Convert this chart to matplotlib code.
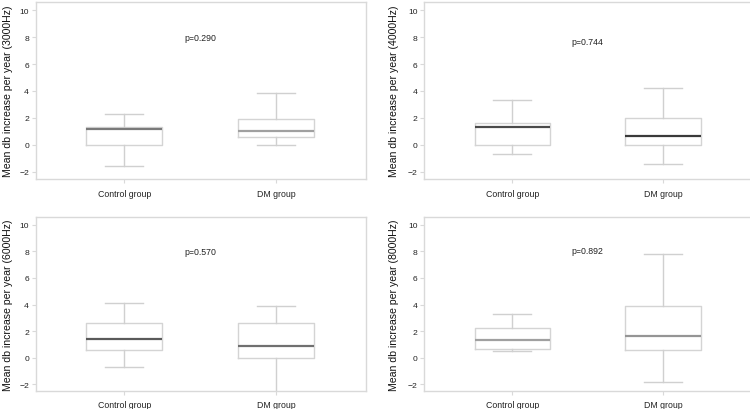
import matplotlib
matplotlib.use("Agg")
import matplotlib.pyplot as plt

plt.rcParams['font.family'] = ['Liberation Sans', 'DejaVu Sans']

groups = ["Control group", "DM group"]
freqs = ["3000Hz", "4000Hz", "6000Hz", "8000Hz"]
p_values = ["p=0.290", "p=0.744", "p=0.570", "p=0.892"]

# box stats per frequency: [control, DM] each (whislo, q1, med, q3, whishi)
stats_3000 = [(-1.55, 0.0, 1.2, 1.3, 2.3), (0.0, 0.6, 1.0, 1.93, 3.83)]
stats_4000 = [(-0.68, 0.0, 1.3, 1.62, 3.35), (-1.45, 0.0, 0.63, 1.97, 4.2)]
stats_6000 = [(-0.7, 0.62, 1.39, 2.58, 4.13), (-3.0, -0.03, 0.86, 2.58, 3.86)]
stats_8000 = [(0.5, 0.7, 1.34, 2.24, 3.32), (-1.83, 0.62, 1.62, 3.88, 7.82)]
all_stats = [stats_3000, stats_4000, stats_6000, stats_8000]
p_y = [8.0, 7.7, 8.0, 8.05]
median_colors = [["#7a7a7a", "#a0a0a0"], ["#4a4a4a", "#3a3a3a"],
                 ["#5a5a5a", "#707070"], ["#a0a0a0", "#959595"]]

fig = plt.figure(figsize=(7.5, 4.1), dpi=100)
rects = [
    [0.048, 0.562, 0.440, 0.430],
    [0.566, 0.562, 0.437, 0.430],
    [0.048, 0.043, 0.440, 0.426],
    [0.566, 0.043, 0.437, 0.426],
]
label_x = [-0.07, -0.077, -0.07, -0.077]
xpads = [4.2, 4.2, 2.9, 2.9]
frame_c = "#d9d9d9"
for i, r in enumerate(rects):
    ax = fig.add_axes(r)
    bxp = []
    for j, s in enumerate(all_stats[i]):
        bxp.append(dict(whislo=s[0], q1=s[1], med=s[2], q3=s[3], whishi=s[4],
                        fliers=[], label=groups[j]))
    art = ax.bxp(bxp, positions=[1, 2], widths=0.5, showfliers=False,
                 boxprops=dict(color="#d4d4d4", linewidth=1.0),
                 whiskerprops=dict(color="#d0d0d0", linewidth=1.0),
                 capprops=dict(color="#d0d0d0", linewidth=1.0),
                 medianprops=dict(color="#777777", linewidth=1.6),
                 capwidths=0.25)
    for k, m in enumerate(art['medians']):
        m.set_color(median_colors[i][k])
    ax.set_xlim(0.418, 2.593)
    ax.set_ylim(-2.52, 10.6)
    ax.set_yticks([-2, 0, 2, 4, 6, 8, 10])
    ax.set_xticks([1, 2])
    ax.set_xticklabels(groups)
    for sp in ax.spines.values():
        sp.set_color(frame_c)
        sp.set_linewidth(1.0)
    ax.tick_params(axis='both', colors=frame_c, labelcolor="#222222",
                   labelsize=6.1, length=3, width=0.8, pad=2)
    ax.tick_params(axis='x', pad=xpads[i], labelsize=6.3)
    ax.set_ylabel("Mean db increase per year (%s)" % freqs[i], fontsize=7.6,
                  color="#111111")
    ax.yaxis.set_label_coords(label_x[i], 0.5)
    ax.text(1.5, p_y[i], p_values[i], ha='center', va='center', fontsize=6.3,
            color="#222222")

fig.savefig("out.png", dpi=100)
